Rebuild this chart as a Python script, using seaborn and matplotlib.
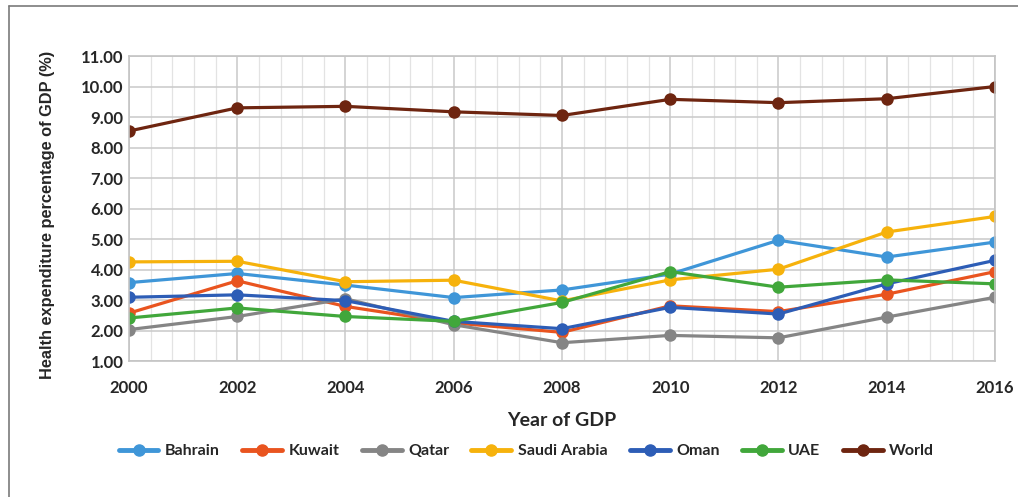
import pandas as pd
import seaborn as sns
import matplotlib.pyplot as plt
from matplotlib.lines import Line2D
from matplotlib.ticker import MultipleLocator

# # # # # Data # # # # #
years = [2000, 2002, 2004, 2006, 2008, 2010, 2012, 2014, 2016]
bahrain = [3.57, 3.87, 3.49, 3.08, 3.33, 3.85, 4.96, 4.41, 4.90]
kuwait = [2.57, 3.63, 2.79, 2.25, 1.94, 2.81, 2.62, 3.19, 3.93]
qatar = [2.03, 2.46, 3.04, 2.19, 1.60, 1.84, 1.76, 2.44, 3.09]
saudi = [4.25, 4.27, 3.60, 3.65, 2.97, 3.66, 4.01, 5.23, 5.74]
oman = [3.09, 3.17, 2.98, 2.30, 2.06, 2.76, 2.54, 3.53, 4.30]
uae = [2.41, 2.74, 2.46, 2.30, 2.92, 3.93, 3.42, 3.66, 3.53]
world = [8.54, 9.30, 9.35, 9.17, 9.05, 9.58, 9.47, 9.60, 10.00]

countries = ['Bahrain', 'Kuwait', 'Qatar', 'Saudi Arabia', 'Oman', 'UAE', 'World']
colours = ['#3f96d8', '#e9541f', '#858585', '#f6b20c', '#2d5db6', '#41a73b', '#6e2510']

# build a long data frame for seaborn
series = [bahrain, kuwait, qatar, saudi, oman, uae, world]
rows = []
for name, vals in zip(countries, series):
    for yr, v in zip(years, vals):
        rows.append({'Year': yr, 'Value': v, 'Country': name})
df = pd.DataFrame(rows)

# # # # # Plot # # # # #
sns.set_theme(style='white')
plt.rcParams['font.family'] = ['Lato', 'DejaVu Sans']

fig = plt.figure(figsize=(10.18, 4.97), dpi=100)
ax = fig.add_axes([0.1267, 0.2736, 0.8507, 0.6137])

sns.lineplot(data=df, x='Year', y='Value', hue='Country', hue_order=countries,
             palette=colours, marker='o', markersize=9, markeredgewidth=0,
             linewidth=2.3, legend=False, ax=ax)

ax.set_xlim(2000, 2016)
ax.set_ylim(1, 11)
ax.set_xticks(years)
ax.set_yticks(range(1, 12))
ax.set_yticklabels(['%.2f' % v for v in range(1, 12)])
ax.xaxis.set_minor_locator(MultipleLocator(0.4))
ax.grid(which='major', color='#c9c9c9', linewidth=1.1)
ax.grid(which='minor', axis='x', color='#e3e3e3', linewidth=0.9)
ax.set_axisbelow(True)
for s in ax.spines.values():
    s.set_color('#c4c4c4')
    s.set_linewidth(1.2)

ax.tick_params(axis='both', length=0, labelsize=12)
ax.tick_params(axis='x', pad=14)
ax.tick_params(axis='y', pad=4)
for lab in ax.get_xticklabels() + ax.get_yticklabels():
    lab.set_fontweight('bold')

ax.set_xlabel('Year of GDP', fontsize=14, fontweight='bold', labelpad=11)
ax.set_ylabel('Health expenditure percentage of GDP (%)', fontsize=11.8,
              fontweight='bold', family=['Liberation Sans', 'DejaVu Sans'])
ax.yaxis.set_label_coords(-0.086, 0.48)

# legend along the bottom
handles = [Line2D([0], [0], color=c, marker='o', markersize=8, linewidth=3.5)
           for c in colours]
fig.legend(handles, countries, loc='center', bbox_to_anchor=(0.517, 0.092), ncol=7,
           frameon=False, handlelength=2.5, columnspacing=1.4, handletextpad=0.4,
           prop={'weight': 'bold', 'size': 11.5})

# outer frame lines (top and left)
fig.add_artist(Line2D([0.009, 1.0], [0.988, 0.988], color='#7a7a7a', linewidth=1.2))
fig.add_artist(Line2D([0.009, 0.009], [0.0, 0.988], color='#7a7a7a', linewidth=1.2))

fig.savefig('out.png', dpi=100)
